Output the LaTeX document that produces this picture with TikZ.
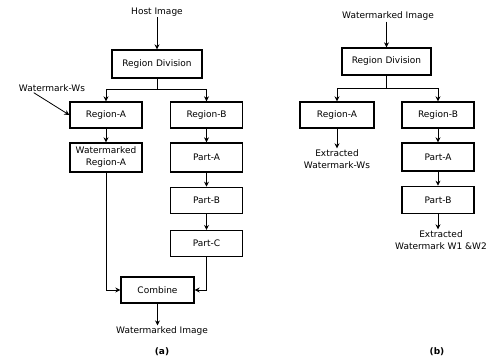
\documentclass[tikz,border=0pt]{standalone}
\usepackage{fontspec}
\setmainfont{DejaVu Sans}
\usepackage{tikz}
\usetikzlibrary{arrows.meta, positioning}

\begin{document}
\begin{tikzpicture}[x=1pt, y=-1pt,
  box/.style={rectangle, draw=black, line width=1.3pt, minimum width=72pt, minimum height=26pt, inner sep=1pt, align=center, font=\fontsize{9}{12}\selectfont},
  txt/.style={align=center, inner sep=1pt, font=\fontsize{9}{12}\selectfont},
  figcap/.style={font=\fontsize{9}{10}\selectfont\bfseries},
  arrow/.style={-{Stealth[length=5pt, width=5pt]}, line width=0.8pt}
]
  \useasboundingbox (0,0) rectangle (498,359);

  % (a) embedding
  \node[txt] (hostA) at (157,12) {Host Image};
  \node[box, minimum width=90pt, minimum height=28pt] (divA) at (157,64) {Region Division};
  \node[box] (regA) at (106,115) {Region-A};
  \node[box] (regB) at (206.5,115) {Region-B};
  \node[txt] (wmWs) at (52,88) {Watermark-Ws};
  \node[box, minimum height=29pt] (wmRegA) at (106,157.5) {Watermarked\\Region-A};
  \node[box, minimum height=29pt] (partA) at (206.5,157.5) {Part-A};
  \node[box, below=14pt of partA] (partB) {Part-B};
  \node[box, below=16pt of partB] (partC) {Part-C};
  \node[box, minimum width=73pt] (combine) at (157.5,290) {Combine};
  \node[txt] (outA) at (162,331) {Watermarked Image};
  \node[figcap] (capA) at (162,352) {(a)};

  \draw[arrow] (hostA) -- (divA);
  \draw (divA.south) -- ++(0,11) coordinate (splitA);
  \draw[arrow] (splitA) -| (regA);
  \draw[arrow] (splitA) -| (regB);
  \draw[arrow] ([xshift=16pt]wmWs.south west) -- (regA.west);
  \draw[arrow] (regA) -- (wmRegA);
  \draw[arrow] (regB) -- (partA);
  \draw[arrow] (partA) -- (partB);
  \draw[arrow] (partB) -- (partC);
  \draw[arrow] (wmRegA.south) |- (combine.west);
  \draw[arrow] (partC.south) |- (combine.east);
  \draw[arrow] (combine.south) -- (combine.south |- outA.north);

  % (b) extraction
  \node[txt] (inB) at (388,16) {Watermarked Image};
  \node[box, minimum width=89pt, minimum height=27pt] (divB) at (386.5,61.5) {Region Division};
  \node[box, minimum width=74pt] (regAb) at (337,115) {Region-A};
  \node[box] (regBb) at (438,115) {Region-B};
  \node[txt] (exWs) at (337,159) {Extracted\\Watermark-Ws};
  \node[box, minimum height=28pt] (partAb) at (438,157) {Part-A};
  \node[box, minimum height=27pt, below=14pt of partAb] (partBb) {Part-B};
  \node[txt] (exW) at (441,240) {Extracted\\Watermark W1 \&W2};
  \node[figcap] (capB) at (437,352) {(b)};

  \draw[arrow] (divB.north |- inB.south) -- (divB.north);
  \draw (divB.south) -- ++(0,13) coordinate (splitB);
  \draw[arrow] (splitB) -| (regAb);
  \draw[arrow] (splitB) -| (regBb);
  \draw[arrow] (regAb) -- (exWs);
  \draw[arrow] (regBb) -- (partAb);
  \draw[arrow] (partAb) -- (partBb);
  \draw[arrow] (partBb.south) -- (partBb.south |- exW.north);
\end{tikzpicture}
\end{document}
